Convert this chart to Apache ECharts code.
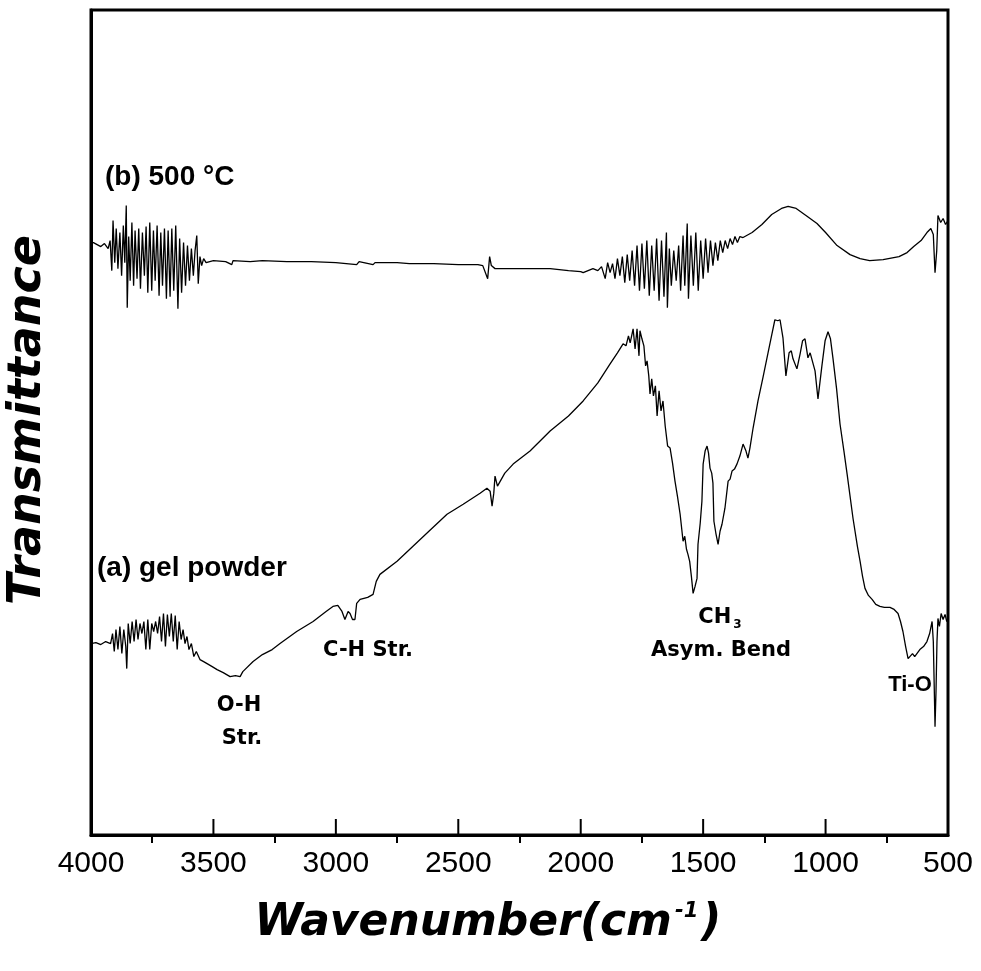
<!DOCTYPE html>
<html><head><meta charset="utf-8">
<script src="https://cdn.jsdelivr.net/npm/echarts@6/dist/echarts.min.js"></script>
<style>html,body{margin:0;padding:0;background:#fff}#c{width:981px;height:971px}</style>
</head><body><div id="c"></div>
<script>
// FT-IR transmittance (arbitrary units) vs wavenumber (cm^-1)
const xTickValues = [4000, 3500, 3000, 2500, 2000, 1500, 1000, 500];

const calcined500 = [
[4000,59.1],[3990,59.1],[3975,58.9],[3960,58.7],[3945,59.0],[3930,58.5],[3922,59.3],[3915,56.3],[3910,61.3],[3903,57.1],
[3897,60.5],[3890,56.5],[3882,60.1],[3875,55.8],[3868,60.8],[3862,57.1],[3856,62.8],[3852,52.6],[3846,59.7],[3840,55.3],
[3833,61.1],[3826,54.8],[3820,60.3],[3812,55.5],[3805,60.5],[3798,54.5],[3790,60.1],[3782,55.8],[3775,60.7],[3768,54.1],
[3760,61.1],[3752,54.3],[3745,60.3],[3738,55.3],[3730,60.8],[3722,53.8],[3715,60.1],[3708,54.8],[3700,60.5],[3692,53.5],
[3685,60.3],[3677,53.7],[3670,60.5],[3662,54.3],[3654,60.8],[3645,52.5],[3638,59.5],[3630,54.1],[3622,59.1],[3614,54.8],
[3606,58.8],[3598,55.3],[3590,58.5],[3582,55.8],[3575,58.3],[3568,59.8],[3562,55.0],[3555,57.7],[3548,56.8],[3540,57.5],
[3530,57.1],[3500,57.3],[3450,57.2],[3425,56.9],[3420,57.3],[3350,57.2],[3300,57.3],[3200,57.2],[3100,57.2],[3000,57.1],
[2915,56.9],[2905,57.2],[2848,56.9],[2840,57.1],[2750,57.1],[2700,57.0],[2600,57.0],[2500,56.9],[2420,56.9],[2400,56.8],
[2380,55.5],[2372,57.7],[2365,56.8],[2350,56.5],[2300,56.5],[2200,56.5],[2125,56.5],[2050,56.3],[2000,56.2],
[1990,56.1],[1970,56.3],[1950,56.5],[1930,56.3],[1915,56.7],[1900,55.5],[1890,57.1],[1880,56.1],[1870,57.0],[1860,55.5],
[1850,57.5],[1840,55.8],[1830,57.7],[1820,55.1],[1810,57.9],[1800,55.3],[1790,58.3],[1780,54.8],[1770,58.8],[1760,54.3],
[1750,59.0],[1740,54.5],[1730,59.3],[1720,53.8],[1710,58.8],[1700,54.3],[1690,59.5],[1680,53.3],[1670,59.3],[1660,53.7],
[1650,60.1],[1646,52.6],[1638,58.5],[1630,54.8],[1620,58.3],[1610,55.3],[1600,58.8],[1592,54.3],[1582,59.8],[1575,54.8],
[1565,61.0],[1560,53.5],[1550,59.8],[1540,54.8],[1530,60.1],[1520,54.3],[1510,59.3],[1500,55.5],[1490,59.5],[1480,56.1],
[1470,59.3],[1460,56.8],[1450,59.1],[1440,57.3],[1430,59.3],[1420,58.1],[1410,59.3],[1400,58.5],[1390,59.5],[1380,58.9],
[1370,59.7],[1360,59.1],[1350,59.7],[1337,59.6],[1300,60.1],[1260,60.9],[1220,61.9],[1180,62.5],[1153,62.7],[1120,62.5],
[1080,61.8],[1035,61.0],[1000,60.1],[953,58.8],[900,57.9],[859,57.5],[820,57.3],[765,57.4],[700,57.7],[667,58.1],
[640,58.7],[610,59.3],[586,60.1],[570,60.5],[560,59.9],[553,56.1],[546,58.3],[541,61.8],[530,61.1],[520,61.5],
[510,60.9],[500,61.3]
];

const gelPowder = [
[4000,19.1],[3980,19.2],[3960,19.0],[3940,19.3],[3920,19.1],[3912,20.1],[3905,18.3],[3898,20.5],[3890,18.5],[3882,20.8],
[3874,18.1],[3866,20.5],[3858,18.8],[3854,16.6],[3848,21.1],[3840,19.1],[3832,21.3],[3824,19.3],[3816,21.5],[3808,19.5],
[3800,21.1],[3792,20.1],[3784,21.3],[3776,18.5],[3768,21.5],[3760,18.5],[3752,21.1],[3744,20.3],[3736,21.3],[3728,20.1],
[3720,21.8],[3712,19.3],[3704,22.1],[3696,18.8],[3688,22.0],[3680,19.8],[3672,22.1],[3664,19.3],[3656,21.9],[3648,18.5],
[3640,21.3],[3632,19.5],[3624,20.5],[3616,19.1],[3608,19.8],[3600,18.5],[3590,19.1],[3580,17.8],[3570,18.3],[3555,17.5],
[3540,17.3],[3526,17.1],[3505,16.8],[3485,16.5],[3460,16.2],[3432,15.8],[3410,15.9],[3391,15.8],[3380,16.3],[3338,17.3],
[3300,18.0],[3260,18.5],[3228,19.1],[3160,20.3],[3093,21.3],[3040,22.3],[3012,22.8],[2992,22.9],[2975,22.3],[2963,21.5],
[2950,22.3],[2942,22.1],[2932,21.5],[2922,21.5],[2915,23.1],[2901,23.5],[2870,23.7],[2848,24.0],[2835,25.3],[2820,26.0],
[2750,27.3],[2685,28.8],[2620,30.3],[2546,32.0],[2480,33.0],[2411,34.1],[2383,34.6],[2370,34.3],[2362,32.8],[2355,34.1],
[2350,35.8],[2340,34.8],[2310,36.1],[2276,37.0],[2207,38.3],[2125,40.3],[2050,41.8],[1990,43.3],[1930,45.1],[1880,47.0],
[1850,48.1],[1827,49.0],[1815,48.8],[1805,49.8],[1798,49.1],[1786,50.5],[1778,48.5],[1770,50.5],[1762,47.8],[1758,50.3],
[1750,49.5],[1742,48.8],[1735,46.8],[1729,47.3],[1722,45.8],[1717,44.0],[1710,45.5],[1703,43.8],[1695,44.8],[1688,41.8],
[1680,44.3],[1672,42.3],[1664,43.3],[1655,40.8],[1645,38.8],[1635,38.6],[1625,37.1],[1615,35.3],[1605,33.8],[1594,32.0],
[1582,29.3],[1575,29.8],[1568,28.5],[1562,28.0],[1555,27.3],[1548,25.8],[1541,24.1],[1533,24.8],[1525,25.6],[1521,29.0],
[1512,31.1],[1505,33.3],[1500,37.0],[1492,38.3],[1484,38.8],[1478,38.1],[1472,36.6],[1465,36.1],[1460,35.1],[1456,31.3],
[1448,30.1],[1439,29.0],[1431,30.3],[1423,31.0],[1411,32.6],[1398,35.3],[1390,35.5],[1382,36.3],[1372,36.5],[1362,37.0],
[1350,37.8],[1337,39.0],[1325,38.3],[1317,37.6],[1309,38.6],[1296,40.6],[1276,43.3],[1256,45.6],[1235,48.1],[1219,50.0],
[1207,51.4],[1195,51.3],[1186,51.4],[1174,49.6],[1162,45.8],[1149,48.1],[1140,48.3],[1133,47.5],[1117,46.5],[1104,48.0],
[1094,49.3],[1084,49.5],[1072,47.6],[1063,48.1],[1055,48.0],[1043,46.3],[1031,43.5],[1015,46.8],[1002,49.3],[990,50.2],
[980,49.5],[970,47.6],[955,44.5],[941,41.0],[925,38.3],[912,36.0],[888,31.6],[870,28.8],[859,27.3],[849,25.8],
[839,24.6],[825,23.9],[810,23.5],[795,23.0],[778,22.8],[760,22.7],[737,22.7],[720,22.5],[704,22.1],[694,21.3],
[684,20.3],[673,18.8],[663,17.6],[655,17.5],[645,18.1],[636,17.8],[627,18.1],[615,18.5],[600,18.8],[586,19.3],
[575,20.1],[565,21.3],[560,19.3],[555,13.3],[553,10.8],[549,14.3],[545,19.3],[541,21.6],[535,20.8],[528,22.1],
[520,21.5],[512,22.0],[505,21.3],[500,21.5]
];

const chart = echarts.init(document.getElementById('c'), null, {renderer: 'canvas'});
const sans = "'Liberation Sans', Arial, sans-serif";
const wide = "'DejaVu Sans', sans-serif";
const xMin = xTickValues[xTickValues.length - 1], xMax = xTickValues[0];

chart.setOption({
  animation: false,
  backgroundColor: '#fff',
  grid: {left: 91, right: 33, top: 10, bottom: 136, show: true, borderColor: '#000', borderWidth: 3},
  xAxis: {
    type: 'value', inverse: true, min: xMin, max: xMax, interval: 500, position: 'bottom',
    axisLine: {show: true, lineStyle: {color: '#000', width: 3}},
    axisTick: {show: false},
    minorTick: {show: true, splitNumber: 2, length: 8, lineStyle: {color: '#000', width: 2}},
    axisLabel: {show: true, margin: 14, fontSize: 30, color: '#000', fontFamily: sans,
      formatter: function (v) { return String(v); }},
    splitLine: {show: false}
  },
  yAxis: {
    type: 'value', min: 0, max: 82.3,
    axisLine: {show: true, lineStyle: {color: '#000', width: 3}},
    axisTick: {show: false}, axisLabel: {show: false}, splitLine: {show: false}
  },
  graphic: [
    {type: 'text', x: 105, y: 177, style: {text: '(b) 500 °C', font: 'bold 28px ' + sans, fill: '#000', textVerticalAlign: 'middle'}},
    {type: 'text', x: 97, y: 568, style: {text: '(a) gel powder', font: 'bold 28px ' + sans, fill: '#000', textVerticalAlign: 'middle'}},
    {type: 'text', x: 239, y: 706, style: {text: 'O-H', font: 'bold 21px ' + wide, fill: '#000', textAlign: 'center', textVerticalAlign: 'middle'}},
    {type: 'text', x: 242, y: 739, style: {text: 'Str.', font: 'bold 21px ' + wide, fill: '#000', textAlign: 'center', textVerticalAlign: 'middle'}},
    {type: 'text', x: 368, y: 651, style: {text: 'C-H Str.', font: 'bold 21px ' + wide, fill: '#000', textAlign: 'center', textVerticalAlign: 'middle'}},
    {type: 'text', x: 720, y: 618, style: {text: '{a|CH}{s|3}', fill: '#000', textAlign: 'center', textVerticalAlign: 'middle',
      rich: {a: {font: 'bold 21px ' + wide, fill: '#000'}, s: {font: 'bold 12px ' + wide, fill: '#000', padding: [14, 0, 0, 2]}}}},
    {type: 'text', x: 721, y: 651, style: {text: 'Asym. Bend', font: 'bold 21px ' + wide, fill: '#000', textAlign: 'center', textVerticalAlign: 'middle'}},
    {type: 'text', x: 910, y: 685, style: {text: 'Ti-O', font: 'bold 22px ' + sans, fill: '#000', textAlign: 'center', textVerticalAlign: 'middle'}},
    {type: 'text', x: 28, y: 420, rotation: Math.PI / 2, style: {text: 'Transmittance', font: 'italic bold 46px ' + wide, fill: '#000', textAlign: 'center', textVerticalAlign: 'middle'}},
    {type: 'text', x: 488, y: 924, style: {text: '{t|Wavenumber(cm}{s|-1}{t|)}', fill: '#000', textAlign: 'center', textVerticalAlign: 'middle',
      rich: {t: {font: 'italic bold 44px ' + wide, fill: '#000'}, s: {font: 'italic bold 21px ' + wide, fill: '#000', padding: [0, 3, 24, 3]}}}}
  ],
  series: [
    {name: '(a) gel powder', type: 'line', data: gelPowder, showSymbol: false, symbol: 'none',
      lineStyle: {color: '#000', width: 1.3}, z: 3},
    {name: '(b) 500 °C', type: 'line', data: calcined500, showSymbol: false, symbol: 'none',
      lineStyle: {color: '#000', width: 1.3}, z: 3},
    {
      // major inward ticks on the wavenumber axis, placed through the axis scale
      name: 'major ticks', type: 'custom', silent: true, clip: false, z: 4,
      data: xTickValues.map(function (v) { return [v, 0]; }),
      renderItem: function (params, api) {
        const p = api.coord([api.value(0), 0]);
        return {type: 'line', shape: {x1: p[0], y1: p[1], x2: p[0], y2: p[1] - 16},
          style: {stroke: '#000', lineWidth: 2}};
      }
    }
  ]
});
</script>
</body></html>
